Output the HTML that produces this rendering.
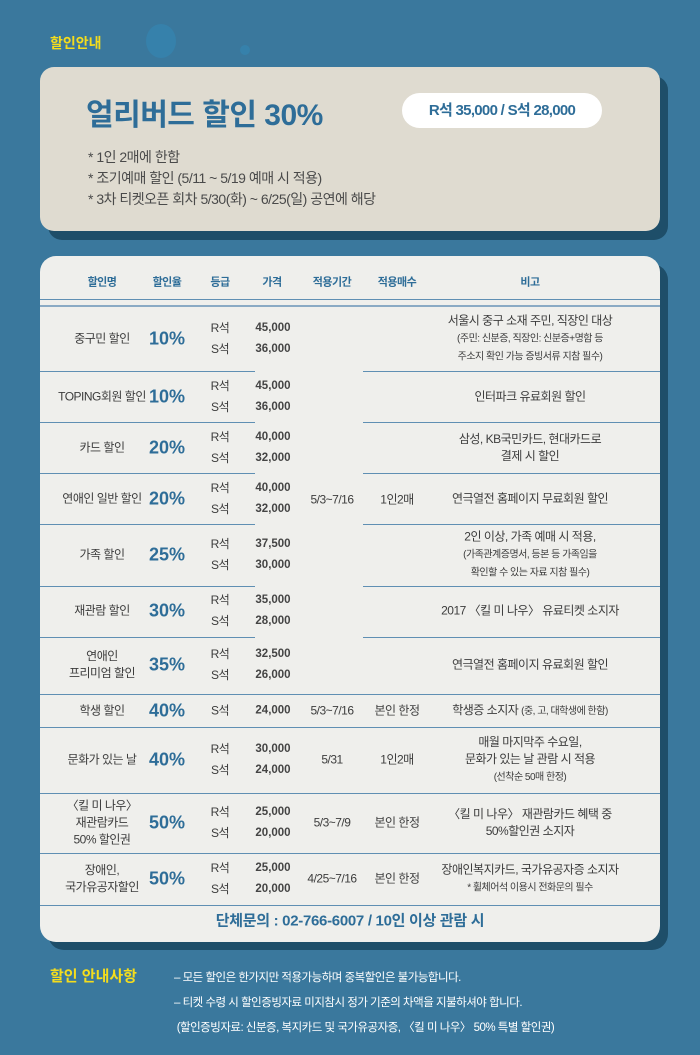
<!DOCTYPE html>
<html><head><meta charset="utf-8">
<style>
*{margin:0;padding:0;box-sizing:border-box}
body{width:700px;height:1055px;background:#3a789d;position:relative;overflow:hidden;font-family:"Liberation Sans","Noto Sans CJK KR",sans-serif;color:#444}
.a{position:absolute}
.t{position:absolute;transform:translate(-50%,-50%);white-space:nowrap;text-align:center;font-size:12px;line-height:17px;color:#3c3c3c;letter-spacing:-0.5px}
.h{color:#2e6d98;font-weight:bold;font-size:11px}
.r{color:#2e6d98;font-weight:bold;font-size:18px;letter-spacing:0}
.g{line-height:21px}
.p{font-weight:bold;font-size:11.5px;color:#444;letter-spacing:0;line-height:21px}
.s{font-size:10px}
.ln{position:absolute;height:1px;background:#5f8fb3}
</style></head><body>
<div class="a" style="left:146px;top:24px;width:30px;height:34px;border-radius:50%;background:#3585b0;opacity:.7"></div>
<div class="a" style="left:240px;top:45px;width:10px;height:10px;border-radius:50%;background:#3585b0;opacity:.7"></div>
<div class="a" style="left:50px;top:33px;color:#f5dd1c;font-weight:bold;font-size:14px">할인안내</div>

<div class="a" style="left:48px;top:76px;width:620px;height:164px;background:#1e4e69;border-radius:14px"></div>
<div class="a" style="left:40px;top:67px;width:620px;height:164px;background:#dfdbd0;border-radius:14px"></div>
<div class="a" style="left:86px;top:90px;color:#2e6d98;font-size:30px;font-weight:bold;letter-spacing:-0.5px">얼리버드 할인 30%</div>
<div class="a" style="left:402px;top:93px;width:200px;height:35px;background:#fff;border-radius:18px;color:#2e6d98;font-weight:bold;font-size:15px;text-align:center;line-height:35px;letter-spacing:-0.7px">R석 35,000 / S석 28,000</div>
<div class="a" style="left:88px;top:147px;font-size:14px;line-height:21px;color:#4a4a4a;letter-spacing:-0.5px">* 1인 2매에 한함<br>* 조기예매 할인 (5/11 ~ 5/19 예매 시 적용)<br>* 3차 티켓오픈 회차 5/30(화) ~ 6/25(일) 공연에 해당</div>

<div class="a" style="left:48px;top:264px;width:620px;height:686px;background:#1e4e69;border-radius:16px"></div>
<div class="a" style="left:40px;top:256px;width:620px;height:686px;background:#efefec;border-radius:16px;overflow:hidden">
</div>
<div class="t h" style="left:102px;top:283px">할인명</div>
<div class="t h" style="left:167px;top:283px">할인율</div>
<div class="t h" style="left:220px;top:283px">등급</div>
<div class="t h" style="left:272px;top:283px">가격</div>
<div class="t h" style="left:332px;top:283px">적용기간</div>
<div class="t h" style="left:397px;top:283px">적용매수</div>
<div class="t h" style="left:530px;top:283px">비고</div>
<div class="ln" style="left:40px;top:299px;width:620px"></div>
<div class="ln" style="left:40px;top:305px;width:620px;height:2px;background:#8aaac4"></div>

<div class="ln" style="left:40px;top:371px;width:215px"></div><div class="ln" style="left:363px;top:371px;width:297px"></div>
<div class="ln" style="left:40px;top:422px;width:215px"></div><div class="ln" style="left:363px;top:422px;width:297px"></div>
<div class="ln" style="left:40px;top:473px;width:215px"></div><div class="ln" style="left:363px;top:473px;width:297px"></div>
<div class="ln" style="left:40px;top:524px;width:215px"></div><div class="ln" style="left:363px;top:524px;width:297px"></div>
<div class="ln" style="left:40px;top:586px;width:215px"></div><div class="ln" style="left:363px;top:586px;width:297px"></div>
<div class="ln" style="left:40px;top:637px;width:215px"></div><div class="ln" style="left:363px;top:637px;width:297px"></div>
<div class="ln" style="left:40px;top:694px;width:620px"></div>
<div class="ln" style="left:40px;top:727px;width:620px"></div>
<div class="ln" style="left:40px;top:793px;width:620px"></div>
<div class="ln" style="left:40px;top:853px;width:620px"></div>
<div class="ln" style="left:40px;top:905px;width:620px"></div>

<div class="t" style="left:332px;top:500px">5/3~7/16</div>
<div class="t" style="left:397px;top:500px">1인2매</div>

<div class="t" style="left:102px;top:339px">중구민 할인</div>
<div class="t r" style="left:167px;top:339px">10%</div>
<div class="t g" style="left:220px;top:339px">R석<br>S석</div>
<div class="t p" style="left:273px;top:339px">45,000<br>36,000</div>
<div class="t" style="left:530px;top:339px">서울시 중구 소재 주민, 직장인 대상<br><span class="s">(주민: 신분증, 직장인: 신분증+명함 등<br>주소지 확인 가능 증빙서류 지참 필수)</span></div>

<div class="t" style="left:102px;top:397px">TOPING회원 할인</div>
<div class="t r" style="left:167px;top:397px">10%</div>
<div class="t g" style="left:220px;top:397px">R석<br>S석</div>
<div class="t p" style="left:273px;top:397px">45,000<br>36,000</div>
<div class="t" style="left:530px;top:397px">인터파크 유료회원 할인</div>

<div class="t" style="left:102px;top:448px">카드 할인</div>
<div class="t r" style="left:167px;top:448px">20%</div>
<div class="t g" style="left:220px;top:448px">R석<br>S석</div>
<div class="t p" style="left:273px;top:448px">40,000<br>32,000</div>
<div class="t" style="left:530px;top:448px">삼성, KB국민카드, 현대카드로<br>결제 시 할인</div>

<div class="t" style="left:102px;top:499px">연애인 일반 할인</div>
<div class="t r" style="left:167px;top:499px">20%</div>
<div class="t g" style="left:220px;top:499px">R석<br>S석</div>
<div class="t p" style="left:273px;top:499px">40,000<br>32,000</div>
<div class="t" style="left:530px;top:499px">연극열전 홈페이지 무료회원 할인</div>

<div class="t" style="left:102px;top:555px">가족 할인</div>
<div class="t r" style="left:167px;top:555px">25%</div>
<div class="t g" style="left:220px;top:555px">R석<br>S석</div>
<div class="t p" style="left:273px;top:555px">37,500<br>30,000</div>
<div class="t" style="left:530px;top:555px">2인 이상, 가족 예매 시 적용,<br><span class="s">(가족관계증명서, 등본 등 가족임을<br>확인할 수 있는 자료 지참 필수)</span></div>

<div class="t" style="left:102px;top:611px">재관람 할인</div>
<div class="t r" style="left:167px;top:611px">30%</div>
<div class="t g" style="left:220px;top:611px">R석<br>S석</div>
<div class="t p" style="left:273px;top:611px">35,000<br>28,000</div>
<div class="t" style="left:530px;top:611px">2017 〈킬 미 나우〉 유료티켓 소지자</div>

<div class="t" style="left:102px;top:665px">연애인<br>프리미엄 할인</div>
<div class="t r" style="left:167px;top:665px">35%</div>
<div class="t g" style="left:220px;top:665px">R석<br>S석</div>
<div class="t p" style="left:273px;top:665px">32,500<br>26,000</div>
<div class="t" style="left:530px;top:665px">연극열전 홈페이지 유료회원 할인</div>

<div class="t" style="left:102px;top:711px">학생 할인</div>
<div class="t r" style="left:167px;top:711px">40%</div>
<div class="t g" style="left:220px;top:711px">S석</div>
<div class="t p" style="left:273px;top:711px">24,000</div>
<div class="t" style="left:332px;top:711px">5/3~7/16</div>
<div class="t" style="left:397px;top:711px">본인 한정</div>
<div class="t" style="left:530px;top:711px">학생증 소지자 <span class="s">(중, 고, 대학생에 한함)</span></div>

<div class="t" style="left:102px;top:760px">문화가 있는 날</div>
<div class="t r" style="left:167px;top:760px">40%</div>
<div class="t g" style="left:220px;top:760px">R석<br>S석</div>
<div class="t p" style="left:273px;top:760px">30,000<br>24,000</div>
<div class="t" style="left:332px;top:760px">5/31</div>
<div class="t" style="left:397px;top:760px">1인2매</div>
<div class="t" style="left:530px;top:760px">매월 마지막주 수요일,<br>문화가 있는 날 관람 시 적용<br><span class="s">(선착순 50매 한정)</span></div>

<div class="t" style="left:102px;top:823px">〈킬 미 나우〉<br>재관람카드<br>50% 할인권</div>
<div class="t r" style="left:167px;top:823px">50%</div>
<div class="t g" style="left:220px;top:823px">R석<br>S석</div>
<div class="t p" style="left:273px;top:823px">25,000<br>20,000</div>
<div class="t" style="left:332px;top:823px">5/3~7/9</div>
<div class="t" style="left:397px;top:823px">본인 한정</div>
<div class="t" style="left:530px;top:823px">〈킬 미 나우〉 재관람카드 혜택 중<br>50%할인권 소지자</div>

<div class="t" style="left:102px;top:879px">장애인,<br>국가유공자할인</div>
<div class="t r" style="left:167px;top:879px">50%</div>
<div class="t g" style="left:220px;top:879px">R석<br>S석</div>
<div class="t p" style="left:273px;top:879px">25,000<br>20,000</div>
<div class="t" style="left:332px;top:879px">4/25~7/16</div>
<div class="t" style="left:397px;top:879px">본인 한정</div>
<div class="t" style="left:530px;top:879px">장애인복지카드, 국가유공자증 소지자<br><span class="s">* 휠체어석 이용시 전화문의 필수</span></div>

<div class="t" style="left:350px;top:921px;color:#2e6d98;font-weight:bold;font-size:15px;letter-spacing:-0.3px">단체문의 : 02-766-6007 / 10인 이상 관람 시</div>

<div class="a" style="left:50px;top:965px;color:#f5dd1c;font-weight:bold;font-size:15px">할인 안내사항</div>
<div class="a" style="left:174px;top:966px;color:#fff;font-size:11.5px;line-height:25px;letter-spacing:-0.5px">– 모든 할인은 한가지만 적용가능하며 중복할인은 불가능합니다.<br>– 티켓 수령 시 할인증빙자료 미지참시 정가 기준의 차액을 지불하셔야 합니다.<br>&nbsp;(할인증빙자료: 신분증, 복지카드 및 국가유공자증, 〈킬 미 나우〉 50% 특별 할인권)</div>
</body></html>
